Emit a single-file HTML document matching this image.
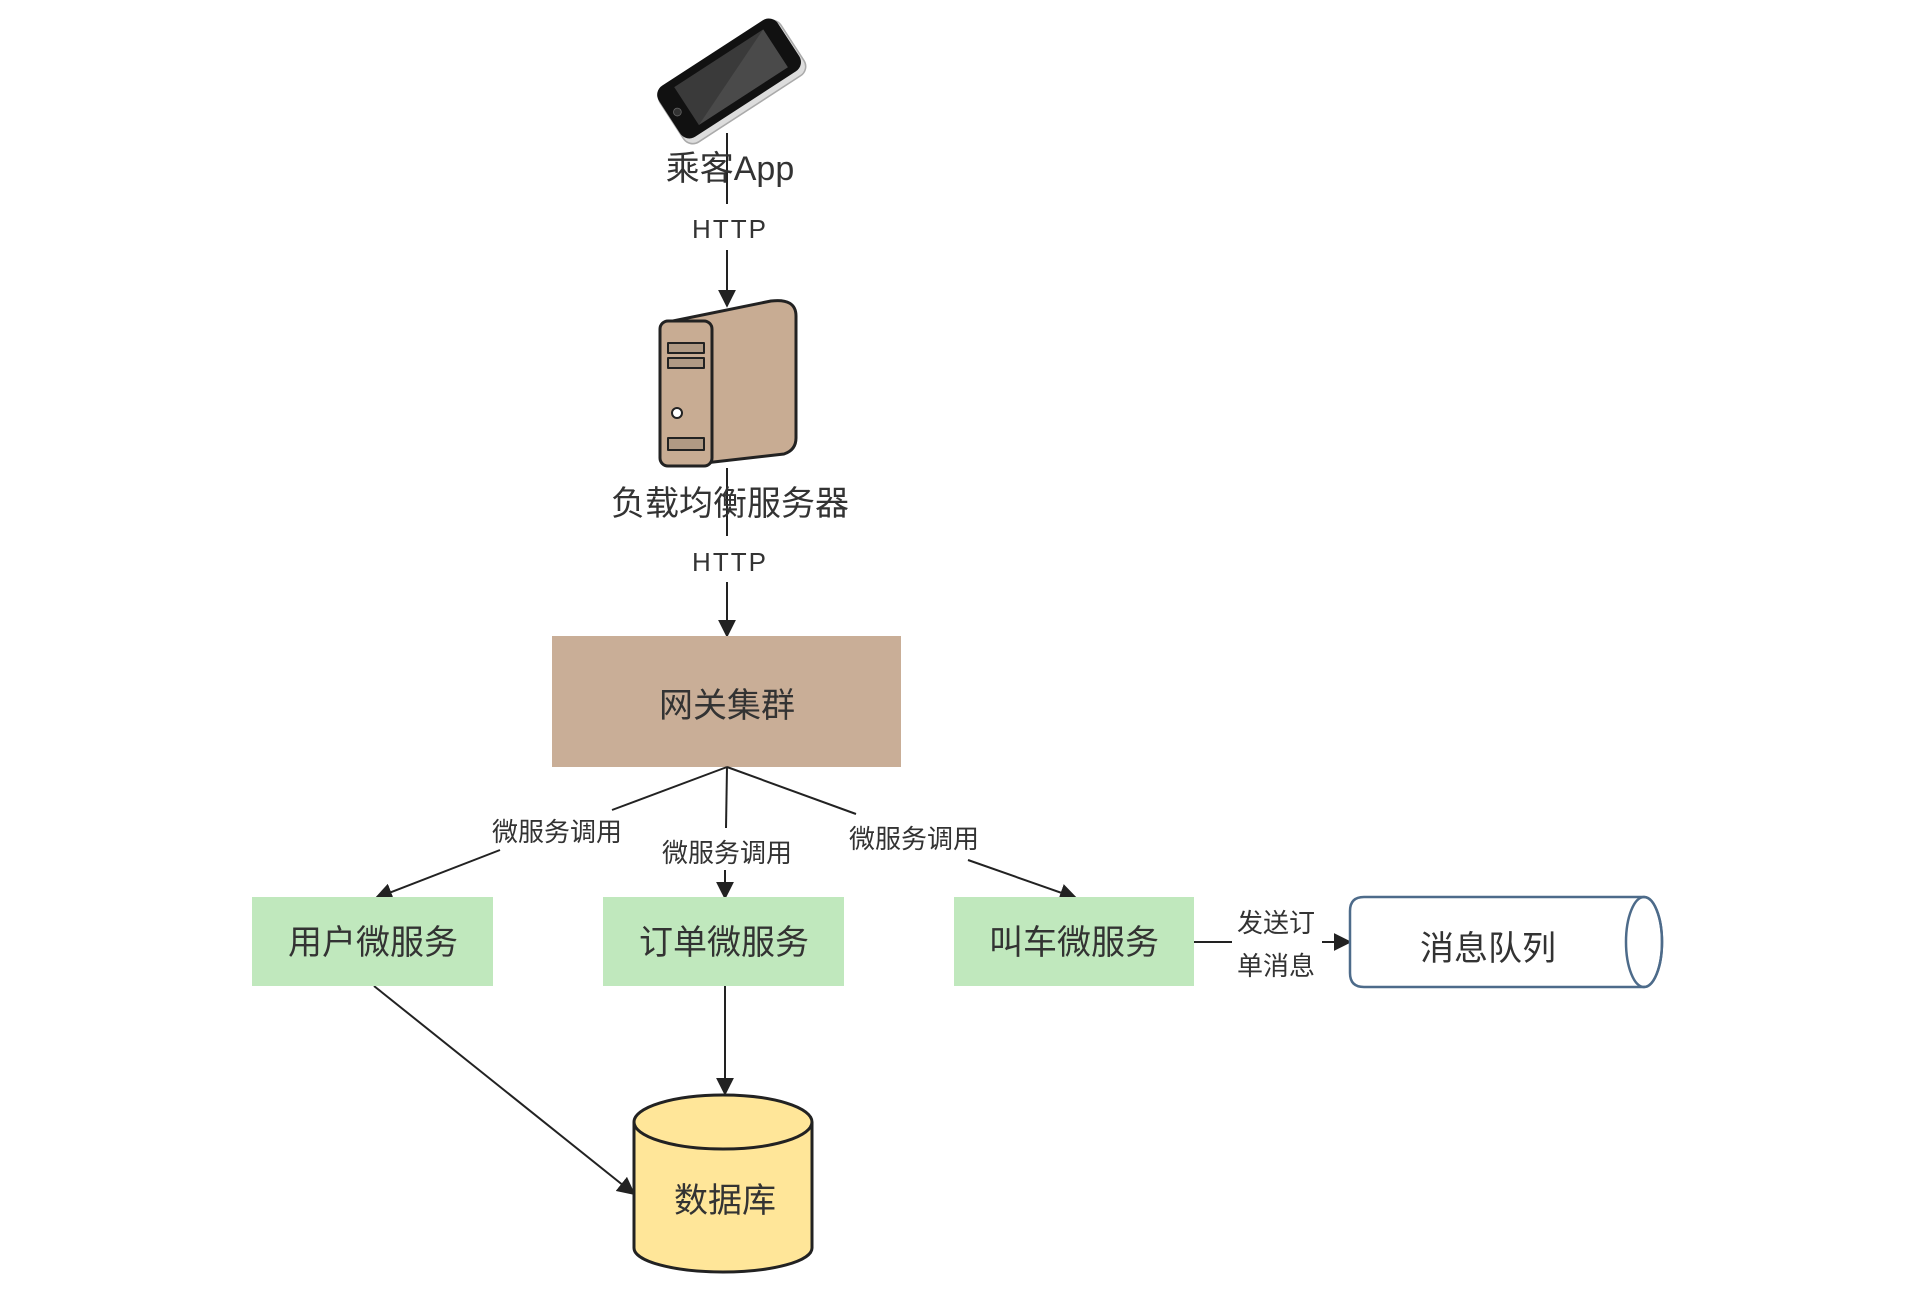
<!DOCTYPE html>
<html><head><meta charset="utf-8"><style>
html,body{margin:0;padding:0;background:#fff}
svg{display:block}
text{font-family:"Liberation Sans","Noto Sans CJK SC",sans-serif;fill:#333}
</style></head><body>
<svg width="1920" height="1296" viewBox="0 0 1920 1296" xmlns="http://www.w3.org/2000/svg">
<defs>
<marker id="ar2" viewBox="0 0 10 10" refX="9" refY="5" markerWidth="18" markerHeight="18" markerUnits="userSpaceOnUse" orient="auto">
<path d="M0,0 L10,5 L0,10 z" fill="#222"/></marker>
</defs>
<g transform="translate(-4,-2)">
<!-- phone -->
<g transform="translate(735,82) rotate(-33) scale(0.78)">
<rect x="-92" y="-38" width="184" height="82" rx="14" fill="#ddd" stroke="#aaa" stroke-width="2"/>
<rect x="-92" y="-42" width="182" height="78" rx="14" fill="#111"/>
<rect x="-66" y="-32" width="136" height="58" fill="#3a3a3a"/>
<path d="M-66,26 L70,-32 L70,26 z" fill="#4a4a4a"/>
<circle cx="-80" cy="-3" r="5" fill="#333" stroke="#666"/>
</g>
<!-- server -->
<g stroke="#222" stroke-width="3" stroke-linejoin="round">
<path d="M667,325 L775,303 Q800,300 800,318 L800,440 Q800,452 788,456 L700,466 Z" fill="#c8ac93"/>
<rect x="664" y="323" width="52" height="145" rx="8" fill="#c8ac93"/>
<rect x="672" y="345" width="36" height="10" fill="#b09a84" stroke-width="2"/>
<rect x="672" y="360" width="36" height="10" fill="#b09a84" stroke-width="2"/>
<rect x="672" y="440" width="36" height="12" fill="#b09a84" stroke-width="2"/>
<circle cx="681" cy="415" r="5" fill="#fff" stroke-width="2"/>
</g>
<g stroke="#222" stroke-width="2" fill="none">
<line x1="731" y1="135" x2="731" y2="206"/>
<line x1="731" y1="252" x2="731" y2="308" marker-end="url(#ar2)"/>
<line x1="731" y1="470" x2="731" y2="538"/>
<line x1="731" y1="584" x2="731" y2="638" marker-end="url(#ar2)"/>
</g>
<text x="734" y="182" font-size="34" text-anchor="middle">乘客App</text>
<text x="734" y="240" font-size="26" text-anchor="middle" letter-spacing="2">HTTP</text>
<text x="734" y="517" font-size="34" text-anchor="middle">负载均衡服务器</text>
<text x="734" y="573" font-size="26" text-anchor="middle" letter-spacing="2">HTTP</text>
<rect x="556" y="638" width="349" height="131" fill="#c9ae97"/>
<text x="731" y="719" font-size="34" text-anchor="middle">网关集群</text>
<g stroke="#222" stroke-width="2" fill="none">
<line x1="731" y1="769" x2="616" y2="812"/>
<line x1="504" y1="852" x2="380" y2="900" marker-end="url(#ar2)"/>
<line x1="731" y1="769" x2="730" y2="830"/>
<line x1="729" y1="872" x2="729" y2="900" marker-end="url(#ar2)"/>
<line x1="731" y1="769" x2="860" y2="816"/>
<line x1="972" y1="862" x2="1080" y2="900" marker-end="url(#ar2)"/>
<line x1="729" y1="988" x2="729" y2="1096" marker-end="url(#ar2)"/>
<line x1="378" y1="988" x2="638" y2="1196" marker-end="url(#ar2)"/>
<line x1="1198" y1="944" x2="1236" y2="944"/>
<line x1="1326" y1="944" x2="1354" y2="944" marker-end="url(#ar2)"/>
</g>
<text x="561" y="843" font-size="26" text-anchor="middle">微服务调用</text>
<text x="731" y="864" font-size="26" text-anchor="middle">微服务调用</text>
<text x="918" y="850" font-size="26" text-anchor="middle">微服务调用</text>
<rect x="256" y="899" width="241" height="89" fill="#c0e8bd"/>
<rect x="607" y="899" width="241" height="89" fill="#c0e8bd"/>
<rect x="958" y="899" width="240" height="89" fill="#c0e8bd"/>
<text x="377" y="956" font-size="34" text-anchor="middle">用户微服务</text>
<text x="728" y="956" font-size="34" text-anchor="middle">订单微服务</text>
<text x="1078" y="956" font-size="34" text-anchor="middle">叫车微服务</text>
<text x="1280" y="934" font-size="26" text-anchor="middle">发送订</text>
<text x="1280" y="977" font-size="26" text-anchor="middle">单消息</text>
<path d="M1368,899 L1648,899 A18,45 0 0 1 1648,989 L1368,989 Q1354,989 1354,975 L1354,913 Q1354,899 1368,899 z" fill="#fff" stroke="#4d6b8a" stroke-width="2.5"/>
<ellipse cx="1648" cy="944" rx="18" ry="45" fill="none" stroke="#4d6b8a" stroke-width="2.5"/>
<text x="1492" y="962" font-size="34" text-anchor="middle">消息队列</text>
<path d="M638,1124 L638,1250 A89,24 0 0 0 816,1250 L816,1124" fill="#ffe699" stroke="#222" stroke-width="3"/>
<ellipse cx="727" cy="1124" rx="89" ry="27" fill="#ffe699" stroke="#222" stroke-width="3"/>
<text x="729" y="1214" font-size="34" text-anchor="middle">数据库</text>
</g>
</svg>
</body></html>
